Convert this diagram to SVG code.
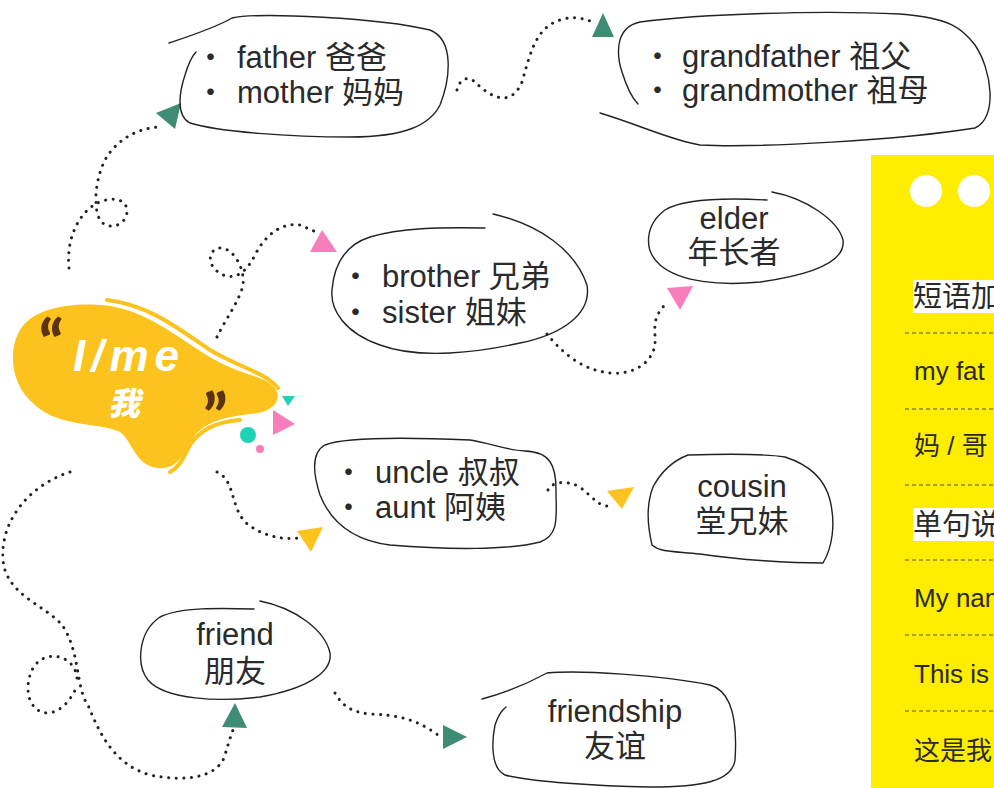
<svg xmlns="http://www.w3.org/2000/svg" width="994" height="788" viewBox="0 0 994 788">
<style>
.bub{fill:none;stroke:#222;stroke-width:1.4;stroke-linecap:round}
.dot{fill:none;stroke:#222;stroke-width:3;stroke-linecap:round;stroke-dasharray:0.1 7.5}
.t{font-family:"Liberation Sans","Noto Sans CJK SC",sans-serif;font-size:31px;fill:#2a2a2a}
.c{text-anchor:middle}
.p{font-family:"Liberation Sans","Noto Sans CJK SC",sans-serif;fill:#2a2a2a}
.dash{stroke:#555;stroke-width:1;stroke-dasharray:4 3}
.green{fill:#3f8c74}.pink{fill:#f97cbb}.yel{fill:#fcc21d}
</style>
<rect width="994" height="788" fill="#fff"/>

<g id="connectors">
<path class="dot" d="M69,268 C66,240 78,215 94,205 C105,198 125,195 127,210 C128,225 108,232 100,220 C93,208 95,180 105,160 C115,142 135,128 160,127"/>
<path class="dot" d="M457,90 C460,78 468,76 475,82 C488,95 510,110 522,82 C530,55 535,28 560,20 C572,16 582,18 590,21"/>
<path class="dot" d="M217,337 C225,320 240,300 243,285 C245,270 235,250 222,248 C210,247 205,262 218,272 C232,282 245,275 255,255 C265,235 282,222 300,225 L316,232"/>
<path class="dot" d="M547,334 C560,350 580,370 610,373 C635,375 652,362 655,345 C656,330 650,318 668,302"/>
<path class="dot" d="M217,472 C235,480 230,505 245,522 C260,535 280,540 298,538"/>
<path class="dot" d="M548,490 C552,482 565,480 578,486 C592,495 600,510 612,505"/>
<path class="dot" d="M70,472 C30,485 0,520 3,560 C6,595 45,605 62,625 C80,650 76,690 88,705 C100,735 115,765 150,775 C185,782 215,778 224,758 C228,745 230,738 233,730"/>
<path class="dot" d="M77,678 C75,655 45,648 33,668 C22,690 30,713 48,713 C62,712 72,698 77,686"/>
<path class="dot" d="M335,693 C342,705 350,712 370,714 C395,715 415,718 438,735"/>
</g>

<g id="arrowheads">
<polygon class="green" points="156,113 181,103 175,129"/>
<polygon class="green" points="592,37 603,13 614,37"/>
<polygon class="pink" points="310,252 322,230 337,252"/>
<polygon class="pink" points="667,288 693,286 680,310"/>
<polygon class="yel" points="297,531 323,527 311,552"/>
<polygon class="yel" points="607,491 634,487 622,509"/>
<polygon class="green" points="222,727 235,703 247,728"/>
<polygon class="green" points="443,725 467,737 443,749"/>
</g>

<g id="node-me">
<path d="M20,330 C35,305 80,302 110,306 C150,312 180,340 215,360 C240,374 262,376 272,385 C284,396 276,410 258,413 C235,416 210,418 195,435 C185,450 180,470 158,468 C135,466 132,440 120,432 C100,422 60,428 35,405 C10,385 8,350 20,330 Z" fill="#fcc21d"/>
<path d="M107,300 C150,305 180,330 210,350 C240,368 265,372 278,388" fill="none" stroke="#fcc21d" stroke-width="4" stroke-linecap="round"/>
<path d="M240,420 C215,422 200,430 190,445 C183,458 180,467 170,472" fill="none" stroke="#fcc21d" stroke-width="4" stroke-linecap="round"/>
<text x="39" y="366" font-family="Lato,'Noto Sans',sans-serif" font-weight="900" font-size="62" fill="#5a3410">“</text>
<text x="203" y="439" font-family="Lato,'Noto Sans',sans-serif" font-weight="900" font-size="62" fill="#5a3410">”</text>
<text x="73" y="371" font-family="'Liberation Sans',sans-serif" font-weight="bold" font-style="italic" font-size="44" letter-spacing="6" fill="#fff">I/me</text>
<text x="108" y="415" font-family="'Noto Sans CJK SC',sans-serif" font-weight="900" font-style="italic" font-size="32" fill="#fff">我</text>
<polygon points="282,396 295,396 288,406" fill="#1fd1b5"/>
<polygon points="273,410 295,424 273,435" fill="#f97cbb"/>
<circle cx="248" cy="435" r="8" fill="#1fd1b5"/>
<circle cx="260" cy="449" r="4" fill="#f97cbb"/>
</g>

<g id="node-parents">
<path class="bub" d="M169,43 C190,36 215,28 232,18 C260,12 380,18 430,30 C455,40 450,80 440,105 C430,125 405,137 350,137 C290,137 220,132 190,123 C175,115 180,90 185,75 C188,65 192,56 196,52"/>
<text class="t"><tspan x="195" y="68">・</tspan><tspan x="237" y="68">father 爸爸</tspan><tspan x="195" y="103">・</tspan><tspan x="237" y="103">mother 妈妈</tspan></text>
</g>

<g id="node-grandparents">
<path class="bub" d="M600,113 C640,125 670,140 700,145 C760,148 900,140 975,128 C998,118 992,70 975,45 C962,28 950,18 900,14 C820,10 700,14 640,22 C612,28 618,60 622,72 C627,88 632,98 638,104"/>
<text class="t"><tspan x="642" y="67">・</tspan><tspan x="682" y="67">grandfather 祖父</tspan><tspan x="642" y="101">・</tspan><tspan x="682" y="101">grandmother 祖母</tspan></text>
</g>

<g id="node-siblings">
<path class="bub" d="M493,214 C540,225 575,250 587,285 C592,315 560,335 520,343 C480,352 420,360 380,345 C345,333 330,310 332,290 C334,265 345,245 370,237 C400,228 440,227 485,228"/>
<text class="t"><tspan x="340" y="287">・</tspan><tspan x="382" y="287">brother 兄弟</tspan><tspan x="340" y="323">・</tspan><tspan x="382" y="323">sister 姐妹</tspan></text>
</g>

<g id="node-elder">
<path class="bub" d="M772,192 C805,198 838,220 843,240 C846,262 810,275 760,282 C720,286 680,282 660,265 C643,250 645,225 665,210 C685,198 730,198 767,200"/>
<text class="t c"><tspan x="734" y="229">elder</tspan><tspan x="734" y="263">年长者</tspan></text>
</g>

<g id="node-uncle">
<path class="bub" d="M325,445 C345,437 400,437 470,440 C490,443 505,450 525,451 C550,452 556,465 556,490 C556,515 560,535 540,542 C510,550 450,550 390,545 C350,540 330,520 320,495 C312,470 312,452 325,445 Z"/>
<text class="t"><tspan x="333" y="483">・</tspan><tspan x="375" y="483">uncle 叔叔</tspan><tspan x="333" y="518">・</tspan><tspan x="375" y="518">aunt 阿姨</tspan></text>
</g>

<g id="node-cousin">
<path class="bub" d="M688,455 C720,454 760,453 785,457 C810,465 825,480 830,500 C836,525 832,548 823,563 C790,563 740,560 700,554 C670,551 660,552 652,545 C646,520 648,500 653,487 C662,470 675,460 688,455 Z"/>
<text class="t c"><tspan x="742" y="497">cousin</tspan><tspan x="742" y="532">堂兄妹</tspan></text>
</g>

<g id="node-friend">
<path class="bub" d="M260,601 C295,608 325,630 330,653 C333,675 300,690 260,697 C220,702 165,700 148,680 C136,665 138,632 160,617 C180,607 220,608 254,609"/>
<text class="t c"><tspan x="235" y="645">friend</tspan><tspan x="235" y="682">朋友</tspan></text>
</g>

<g id="node-friendship">
<path class="bub" d="M482,699 C505,693 525,685 547,673 C580,670 660,675 710,685 C735,692 737,730 735,760 C732,782 700,787 650,787 C600,786 530,782 505,775 C490,768 492,740 495,725 C498,716 502,710 506,707"/>
<text class="t c"><tspan x="615" y="722">friendship</tspan><tspan x="615" y="757">友谊</tspan></text>
</g>

<g id="panel">
<rect x="871" y="155" width="123" height="633" fill="#ffed00"/>
<circle cx="926" cy="191" r="16" fill="#fff"/>
<circle cx="974" cy="191" r="16" fill="#fff"/>
<rect x="913" y="280" width="81" height="33" fill="#fff"/>
<text class="p" x="913" y="307" font-size="29">短语加</text>
<line class="dash" x1="905" y1="333" x2="994" y2="333"/>
<text class="p" x="914" y="380" font-size="26">my fat</text>
<line class="dash" x1="905" y1="409" x2="994" y2="409"/>
<text class="p" x="914" y="455" font-size="26">妈 / 哥</text>
<line class="dash" x1="905" y1="485" x2="994" y2="485"/>
<rect x="913" y="508" width="81" height="33" fill="#fff"/>
<text class="p" x="913" y="535" font-size="29">单句说</text>
<line class="dash" x1="905" y1="560" x2="994" y2="560"/>
<text class="p" x="914" y="607" font-size="26">My nam</text>
<line class="dash" x1="905" y1="635" x2="994" y2="635"/>
<text class="p" x="914" y="683" font-size="26">This is</text>
<line class="dash" x1="905" y1="711" x2="994" y2="711"/>
<text class="p" x="914" y="760" font-size="26">这是我</text>
</g>
</svg>
